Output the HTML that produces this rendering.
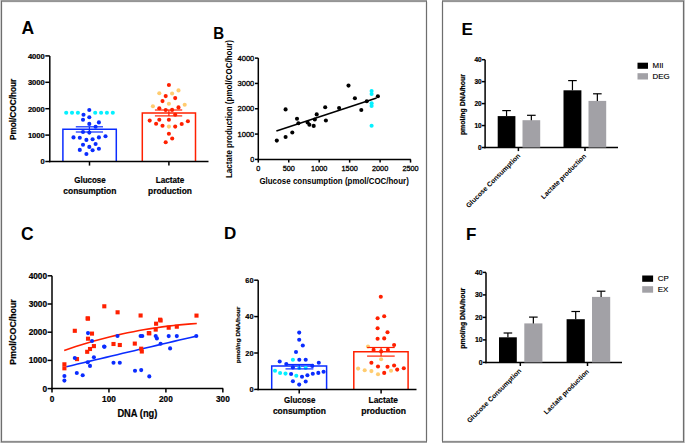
<!DOCTYPE html>
<html><head><meta charset="utf-8"><title>Figure</title>
<style>
html,body{margin:0;padding:0;background:#fff;}
body{width:685px;height:443px;overflow:hidden;}
svg{display:block;}
text{font-family:"Liberation Sans", sans-serif;}
</style></head>
<body>
<svg width="685" height="443" viewBox="0 0 685 443">
<rect x="0" y="0" width="685" height="443" fill="#fff"/>
<rect x="0" y="0" width="427" height="1" fill="#9a9a9a" stroke="none" stroke-width="0"/>
<rect x="0" y="1" width="427" height="1" fill="#949494" stroke="none" stroke-width="0"/>
<rect x="0" y="2" width="427" height="1" fill="#f2f2f2" stroke="none" stroke-width="0"/>
<rect x="0" y="440" width="427" height="1" fill="#eeeeee" stroke="none" stroke-width="0"/>
<rect x="0" y="441" width="427" height="1" fill="#8c8c8c" stroke="none" stroke-width="0"/>
<rect x="0" y="442" width="427" height="1" fill="#a3a3a3" stroke="none" stroke-width="0"/>
<rect x="0" y="2" width="1" height="439" fill="#eeeeee" stroke="none" stroke-width="0"/>
<rect x="2" y="2" width="1" height="439" fill="#eeeeee" stroke="none" stroke-width="0"/>
<rect x="425" y="2" width="1" height="439" fill="#eeeeee" stroke="none" stroke-width="0"/>
<rect x="427" y="2" width="1" height="439" fill="#eeeeee" stroke="none" stroke-width="0"/>
<rect x="0" y="0" width="1" height="443" fill="#d0d0d0" stroke="none" stroke-width="0"/>
<rect x="1" y="1" width="1" height="441" fill="#6e6e6e" stroke="none" stroke-width="0"/>
<rect x="426" y="1" width="1" height="441" fill="#6e6e6e" stroke="none" stroke-width="0"/>
<rect x="442" y="0" width="243" height="1" fill="#9a9a9a" stroke="none" stroke-width="0"/>
<rect x="442" y="1" width="243" height="1" fill="#949494" stroke="none" stroke-width="0"/>
<rect x="442" y="2" width="243" height="1" fill="#f2f2f2" stroke="none" stroke-width="0"/>
<rect x="442" y="440" width="243" height="1" fill="#eeeeee" stroke="none" stroke-width="0"/>
<rect x="442" y="441" width="243" height="1" fill="#8c8c8c" stroke="none" stroke-width="0"/>
<rect x="442" y="442" width="243" height="1" fill="#a3a3a3" stroke="none" stroke-width="0"/>
<rect x="441" y="2" width="1" height="439" fill="#eeeeee" stroke="none" stroke-width="0"/>
<rect x="443" y="2" width="1" height="439" fill="#eeeeee" stroke="none" stroke-width="0"/>
<rect x="682" y="2" width="1" height="439" fill="#eeeeee" stroke="none" stroke-width="0"/>
<rect x="684" y="2" width="1" height="439" fill="#eeeeee" stroke="none" stroke-width="0"/>
<rect x="684" y="0" width="1" height="443" fill="#c4c4c4" stroke="none" stroke-width="0"/>
<rect x="442" y="1" width="1" height="441" fill="#6e6e6e" stroke="none" stroke-width="0"/>
<rect x="683" y="1" width="1" height="441" fill="#6e6e6e" stroke="none" stroke-width="0"/>
<text x="21.4" y="33.8" font-size="17.5" font-weight="bold" text-anchor="start" fill="#000" >A</text>
<line x1="49.8" y1="55.9" x2="49.8" y2="162.25" stroke="#000" stroke-width="1.5" />
<line x1="45.3" y1="161.5" x2="49.8" y2="161.5" stroke="#000" stroke-width="1.5" />
<text x="44.8" y="164.3" font-size="7.6" font-weight="bold" text-anchor="end" fill="#000"  stroke="#000" stroke-width="0.2">0</text>
<line x1="45.3" y1="135.1" x2="49.8" y2="135.1" stroke="#000" stroke-width="1.5" />
<text x="44.8" y="137.9" font-size="7.6" font-weight="bold" text-anchor="end" fill="#000"  stroke="#000" stroke-width="0.2">1000</text>
<line x1="45.3" y1="108.7" x2="49.8" y2="108.7" stroke="#000" stroke-width="1.5" />
<text x="44.8" y="111.5" font-size="7.6" font-weight="bold" text-anchor="end" fill="#000"  stroke="#000" stroke-width="0.2">2000</text>
<line x1="45.3" y1="82.3" x2="49.8" y2="82.3" stroke="#000" stroke-width="1.5" />
<text x="44.8" y="85.1" font-size="7.6" font-weight="bold" text-anchor="end" fill="#000"  stroke="#000" stroke-width="0.2">3000</text>
<line x1="45.3" y1="55.9" x2="49.8" y2="55.9" stroke="#000" stroke-width="1.5" />
<text x="44.8" y="58.7" font-size="7.6" font-weight="bold" text-anchor="end" fill="#000"  stroke="#000" stroke-width="0.2">4000</text>
<text x="15.9" y="109.4" font-size="8.3" font-weight="bold" text-anchor="middle" fill="#000" textLength="61.4" lengthAdjust="spacingAndGlyphs" transform="rotate(-90 15.9 109.4)"  stroke="#000" stroke-width="0.2">Pmol/COC/hour</text>
<text x="90" y="183" font-size="9.2" font-weight="bold" text-anchor="middle" fill="#000" textLength="31.5" lengthAdjust="spacingAndGlyphs"  stroke="#000" stroke-width="0.2">Glucose</text>
<text x="89.8" y="194" font-size="9.2" font-weight="bold" text-anchor="middle" fill="#000" textLength="53" lengthAdjust="spacingAndGlyphs"  stroke="#000" stroke-width="0.2">consumption</text>
<text x="170" y="183" font-size="9.2" font-weight="bold" text-anchor="middle" fill="#000" textLength="28.5" lengthAdjust="spacingAndGlyphs"  stroke="#000" stroke-width="0.2">Lactate</text>
<text x="170" y="194" font-size="9.2" font-weight="bold" text-anchor="middle" fill="#000" textLength="43.9" lengthAdjust="spacingAndGlyphs"  stroke="#000" stroke-width="0.2">production</text>
<path d="M62.9 161.5 V129.3 H116.3 V161.5" fill="none" stroke="#0a2cff" stroke-width="1.5"/>
<circle cx="66.2" cy="112.8" r="2.05" fill="#05f0ff"/>
<circle cx="72" cy="112.8" r="2.05" fill="#05f0ff"/>
<circle cx="77.9" cy="112.8" r="2.05" fill="#05f0ff"/>
<circle cx="95.2" cy="112.8" r="2.05" fill="#05f0ff"/>
<circle cx="101.1" cy="112.8" r="2.05" fill="#05f0ff"/>
<circle cx="106.9" cy="112.8" r="2.05" fill="#05f0ff"/>
<circle cx="112.8" cy="112.8" r="2.05" fill="#05f0ff"/>
<circle cx="89.3" cy="110" r="2.05" fill="#0a2cff"/>
<circle cx="83.5" cy="114.7" r="2.05" fill="#0a2cff"/>
<circle cx="89.3" cy="117.2" r="2.05" fill="#0a2cff"/>
<circle cx="83" cy="119.8" r="2.05" fill="#0a2cff"/>
<circle cx="98.9" cy="122.4" r="2.05" fill="#0a2cff"/>
<circle cx="89.3" cy="123.9" r="2.05" fill="#0a2cff"/>
<circle cx="95.6" cy="126.7" r="2.05" fill="#0a2cff"/>
<circle cx="83" cy="132" r="2.05" fill="#0a2cff"/>
<circle cx="89.3" cy="132.6" r="2.05" fill="#0a2cff"/>
<circle cx="73.5" cy="137.4" r="2.05" fill="#0a2cff"/>
<circle cx="79.8" cy="137.8" r="2.05" fill="#0a2cff"/>
<circle cx="86.4" cy="139.9" r="2.05" fill="#0a2cff"/>
<circle cx="92.6" cy="139.3" r="2.05" fill="#0a2cff"/>
<circle cx="98.9" cy="137.4" r="2.05" fill="#0a2cff"/>
<circle cx="105.5" cy="136.2" r="2.05" fill="#0a2cff"/>
<circle cx="83" cy="144.7" r="2.05" fill="#0a2cff"/>
<circle cx="95.6" cy="144" r="2.05" fill="#0a2cff"/>
<circle cx="89.3" cy="146.9" r="2.05" fill="#0a2cff"/>
<circle cx="79.8" cy="149.9" r="2.05" fill="#0a2cff"/>
<circle cx="92.6" cy="150.2" r="2.05" fill="#0a2cff"/>
<circle cx="98.9" cy="148.8" r="2.05" fill="#0a2cff"/>
<circle cx="86.4" cy="154" r="2.05" fill="#0a2cff"/>
<line x1="89.4" y1="126.8" x2="89.4" y2="132" stroke="#0a2cff" stroke-width="1.2" />
<line x1="75.8" y1="126.8" x2="103" y2="126.8" stroke="#0a2cff" stroke-width="1.2" />
<line x1="75.8" y1="132" x2="103" y2="132" stroke="#0a2cff" stroke-width="1.2" />
<path d="M142.3 161.5 V113 H195.5 V161.5" fill="none" stroke="#ff2000" stroke-width="1.5"/>
<circle cx="159.3" cy="93.3" r="2.05" fill="#ffcc70"/>
<circle cx="172.1" cy="93.5" r="2.05" fill="#ffcc70"/>
<circle cx="178.5" cy="90.4" r="2.05" fill="#ffcc70"/>
<circle cx="168.9" cy="103.7" r="2.05" fill="#ffcc70"/>
<circle cx="152.9" cy="106.2" r="2.05" fill="#ffcc70"/>
<circle cx="184.7" cy="104.8" r="2.05" fill="#ffcc70"/>
<circle cx="168.9" cy="126.6" r="2.05" fill="#ffcc70"/>
<circle cx="168.9" cy="85" r="2.05" fill="#ff2000"/>
<circle cx="165.7" cy="96.1" r="2.05" fill="#ff2000"/>
<circle cx="175.2" cy="98.1" r="2.05" fill="#ff2000"/>
<circle cx="162.5" cy="101.1" r="2.05" fill="#ff2000"/>
<circle cx="159.3" cy="108.2" r="2.05" fill="#ff2000"/>
<circle cx="165.7" cy="110" r="2.05" fill="#ff2000"/>
<circle cx="172.1" cy="109.9" r="2.05" fill="#ff2000"/>
<circle cx="178.5" cy="107.4" r="2.05" fill="#ff2000"/>
<circle cx="175.2" cy="114.8" r="2.05" fill="#ff2000"/>
<circle cx="149.7" cy="120.6" r="2.05" fill="#ff2000"/>
<circle cx="159.3" cy="119.7" r="2.05" fill="#ff2000"/>
<circle cx="168.9" cy="119.7" r="2.05" fill="#ff2000"/>
<circle cx="156.1" cy="123.8" r="2.05" fill="#ff2000"/>
<circle cx="162.5" cy="125.7" r="2.05" fill="#ff2000"/>
<circle cx="175.2" cy="126.6" r="2.05" fill="#ff2000"/>
<circle cx="181.7" cy="124" r="2.05" fill="#ff2000"/>
<circle cx="187.9" cy="121.2" r="2.05" fill="#ff2000"/>
<circle cx="168.9" cy="133.8" r="2.05" fill="#ff2000"/>
<circle cx="172.2" cy="138.5" r="2.05" fill="#ff2000"/>
<circle cx="165.7" cy="142.3" r="2.05" fill="#ff2000"/>
<line x1="168.9" y1="110" x2="168.9" y2="115.9" stroke="#ff2000" stroke-width="1.2" />
<line x1="154.9" y1="110" x2="182.2" y2="110" stroke="#ff2000" stroke-width="1.2" />
<line x1="154.9" y1="115.9" x2="182.2" y2="115.9" stroke="#ff2000" stroke-width="1.2" />
<line x1="49.05" y1="161.5" x2="208.5" y2="161.5" stroke="#000" stroke-width="1.5" />
<line x1="89.5" y1="161.5" x2="89.5" y2="165.6" stroke="#000" stroke-width="1.5" />
<line x1="168.9" y1="161.5" x2="168.9" y2="165.6" stroke="#000" stroke-width="1.5" />
<text x="213.3" y="38.7" font-size="17.0" font-weight="bold" text-anchor="start" fill="#000" textLength="10.9" lengthAdjust="spacingAndGlyphs" >B</text>
<line x1="258.3" y1="58.1" x2="258.3" y2="160.15" stroke="#000" stroke-width="1.5" />
<line x1="255" y1="159.4" x2="258.3" y2="159.4" stroke="#000" stroke-width="1.5" />
<text x="254.3" y="162" font-size="7.3" font-weight="normal" text-anchor="end" fill="#000" stroke="#000" stroke-width="0.3">0</text>
<line x1="255" y1="134.08" x2="258.3" y2="134.08" stroke="#000" stroke-width="1.5" />
<text x="254.3" y="136.68" font-size="7.3" font-weight="normal" text-anchor="end" fill="#000" textLength="16.8" lengthAdjust="spacingAndGlyphs" stroke="#000" stroke-width="0.3">1000</text>
<line x1="255" y1="108.76" x2="258.3" y2="108.76" stroke="#000" stroke-width="1.5" />
<text x="254.3" y="111.36" font-size="7.3" font-weight="normal" text-anchor="end" fill="#000" textLength="16.8" lengthAdjust="spacingAndGlyphs" stroke="#000" stroke-width="0.3">2000</text>
<line x1="255" y1="83.44" x2="258.3" y2="83.44" stroke="#000" stroke-width="1.5" />
<text x="254.3" y="86.04" font-size="7.3" font-weight="normal" text-anchor="end" fill="#000" textLength="16.8" lengthAdjust="spacingAndGlyphs" stroke="#000" stroke-width="0.3">3000</text>
<line x1="255" y1="58.12" x2="258.3" y2="58.12" stroke="#000" stroke-width="1.5" />
<text x="254.3" y="60.72" font-size="7.3" font-weight="normal" text-anchor="end" fill="#000" textLength="16.8" lengthAdjust="spacingAndGlyphs" stroke="#000" stroke-width="0.3">4000</text>
<line x1="257.55" y1="159.4" x2="410.8" y2="159.4" stroke="#000" stroke-width="1.5" />
<line x1="258.3" y1="159.4" x2="258.3" y2="162.6" stroke="#000" stroke-width="1.5" />
<text x="258.3" y="170.9" font-size="7.3" font-weight="normal" text-anchor="middle" fill="#000" stroke="#000" stroke-width="0.3">0</text>
<line x1="288.75" y1="159.4" x2="288.75" y2="162.6" stroke="#000" stroke-width="1.5" />
<text x="288.75" y="170.9" font-size="7.3" font-weight="normal" text-anchor="middle" fill="#000" stroke="#000" stroke-width="0.3">500</text>
<line x1="319.2" y1="159.4" x2="319.2" y2="162.6" stroke="#000" stroke-width="1.5" />
<text x="319.2" y="170.9" font-size="7.3" font-weight="normal" text-anchor="middle" fill="#000" stroke="#000" stroke-width="0.3">1000</text>
<line x1="349.65" y1="159.4" x2="349.65" y2="162.6" stroke="#000" stroke-width="1.5" />
<text x="349.65" y="170.9" font-size="7.3" font-weight="normal" text-anchor="middle" fill="#000" stroke="#000" stroke-width="0.3">1500</text>
<line x1="380.1" y1="159.4" x2="380.1" y2="162.6" stroke="#000" stroke-width="1.5" />
<text x="380.1" y="170.9" font-size="7.3" font-weight="normal" text-anchor="middle" fill="#000" stroke="#000" stroke-width="0.3">2000</text>
<line x1="410.55" y1="159.4" x2="410.55" y2="162.6" stroke="#000" stroke-width="1.5" />
<text x="410.55" y="170.9" font-size="7.3" font-weight="normal" text-anchor="middle" fill="#000" stroke="#000" stroke-width="0.3">2500</text>
<text x="334.1" y="183.6" font-size="8.8" font-weight="bold" text-anchor="middle" fill="#000" textLength="149.4" lengthAdjust="spacingAndGlyphs" stroke="none">Glucose consumption (pmol/COC/hour)</text>
<text x="232" y="109" font-size="8.8" font-weight="bold" text-anchor="middle" fill="#000" textLength="138" lengthAdjust="spacingAndGlyphs" transform="rotate(-90 232 109)" stroke="none">Lactate production (pmol/COC/hour)</text>
<circle cx="371.6" cy="91" r="2.05" fill="#05f0ff"/>
<circle cx="371.6" cy="94" r="2.05" fill="#05f0ff"/>
<circle cx="371.6" cy="103.2" r="2.05" fill="#05f0ff"/>
<circle cx="371.6" cy="105.9" r="2.05" fill="#05f0ff"/>
<circle cx="371.6" cy="125.8" r="2.05" fill="#05f0ff"/>
<circle cx="276.8" cy="140.6" r="2.05" fill="#000"/>
<circle cx="285.6" cy="137" r="2.05" fill="#000"/>
<circle cx="292.3" cy="132.5" r="2.05" fill="#000"/>
<circle cx="285.6" cy="109.4" r="2.05" fill="#000"/>
<circle cx="297" cy="118.7" r="2.05" fill="#000"/>
<circle cx="298.4" cy="123.2" r="2.05" fill="#000"/>
<circle cx="307.6" cy="122.5" r="2.05" fill="#000"/>
<circle cx="309.4" cy="124.8" r="2.05" fill="#000"/>
<circle cx="313.7" cy="125.9" r="2.05" fill="#000"/>
<circle cx="314.8" cy="119.5" r="2.05" fill="#000"/>
<circle cx="316.7" cy="114.4" r="2.05" fill="#000"/>
<circle cx="325.2" cy="107.3" r="2.05" fill="#000"/>
<circle cx="325.9" cy="120.5" r="2.05" fill="#000"/>
<circle cx="339.1" cy="108" r="2.05" fill="#000"/>
<circle cx="348.5" cy="85.6" r="2.05" fill="#000"/>
<circle cx="354.9" cy="98.2" r="2.05" fill="#000"/>
<circle cx="361.3" cy="110" r="2.05" fill="#000"/>
<circle cx="366.8" cy="101.2" r="2.05" fill="#000"/>
<circle cx="377.9" cy="96.2" r="2.05" fill="#000"/>
<line x1="276.4" y1="131" x2="376.6" y2="98" stroke="#000" stroke-width="1.6" />
<text x="21" y="240" font-size="17.5" font-weight="bold" text-anchor="start" fill="#000" >C</text>
<line x1="52" y1="275.8" x2="52" y2="389.35" stroke="#000" stroke-width="1.5" />
<line x1="47.6" y1="388.6" x2="52" y2="388.6" stroke="#000" stroke-width="1.5" />
<text x="47.1" y="391.5" font-size="8.3" font-weight="bold" text-anchor="end" fill="#000"  stroke="#000" stroke-width="0.2">0</text>
<line x1="47.6" y1="360.4" x2="52" y2="360.4" stroke="#000" stroke-width="1.5" />
<text x="47.1" y="363.3" font-size="8.3" font-weight="bold" text-anchor="end" fill="#000"  stroke="#000" stroke-width="0.2">1000</text>
<line x1="47.6" y1="332.2" x2="52" y2="332.2" stroke="#000" stroke-width="1.5" />
<text x="47.1" y="335.1" font-size="8.3" font-weight="bold" text-anchor="end" fill="#000"  stroke="#000" stroke-width="0.2">2000</text>
<line x1="47.6" y1="304" x2="52" y2="304" stroke="#000" stroke-width="1.5" />
<text x="47.1" y="306.9" font-size="8.3" font-weight="bold" text-anchor="end" fill="#000"  stroke="#000" stroke-width="0.2">3000</text>
<line x1="47.6" y1="275.8" x2="52" y2="275.8" stroke="#000" stroke-width="1.5" />
<text x="47.1" y="278.7" font-size="8.3" font-weight="bold" text-anchor="end" fill="#000"  stroke="#000" stroke-width="0.2">4000</text>
<line x1="51.25" y1="388.6" x2="223.2" y2="388.6" stroke="#000" stroke-width="1.5" />
<line x1="52" y1="388.6" x2="52" y2="392.6" stroke="#000" stroke-width="1.5" />
<text x="52" y="401.7" font-size="8.3" font-weight="bold" text-anchor="middle" fill="#000"  stroke="#000" stroke-width="0.2">0</text>
<line x1="108.95" y1="388.6" x2="108.95" y2="392.6" stroke="#000" stroke-width="1.5" />
<text x="108.95" y="401.7" font-size="8.3" font-weight="bold" text-anchor="middle" fill="#000"  stroke="#000" stroke-width="0.2">100</text>
<line x1="165.9" y1="388.6" x2="165.9" y2="392.6" stroke="#000" stroke-width="1.5" />
<text x="165.9" y="401.7" font-size="8.3" font-weight="bold" text-anchor="middle" fill="#000"  stroke="#000" stroke-width="0.2">200</text>
<line x1="222.85" y1="388.6" x2="222.85" y2="392.6" stroke="#000" stroke-width="1.5" />
<text x="222.85" y="401.7" font-size="8.3" font-weight="bold" text-anchor="middle" fill="#000"  stroke="#000" stroke-width="0.2">300</text>
<text x="137.4" y="417.4" font-size="10.0" font-weight="bold" text-anchor="middle" fill="#000" textLength="40" lengthAdjust="spacingAndGlyphs"  stroke="#000" stroke-width="0.2">DNA (ng)</text>
<text x="16.2" y="332" font-size="8.8" font-weight="bold" text-anchor="middle" fill="#000" textLength="65.4" lengthAdjust="spacingAndGlyphs" transform="rotate(-90 16.2 332)"  stroke="#000" stroke-width="0.2">Pmol/COC/hour</text>
<polyline points="64.20,350.41 69.97,348.45 75.73,346.57 81.50,344.76 87.26,343.02 93.03,341.35 98.79,339.75 104.56,338.23 110.32,336.77 116.09,335.39 121.85,334.08 127.62,332.84 133.38,331.67 139.15,330.58 144.91,329.55 150.68,328.60 156.44,327.71 162.21,326.90 167.97,326.16 173.74,325.50 179.50,324.90 185.27,324.37 191.03,323.92 196.80,323.54" fill="none" stroke="#ff2000" stroke-width="1.6" stroke-linejoin="round"/>
<polyline points="66.30,366.77 71.96,365.42 77.61,364.07 83.27,362.73 88.93,361.38 94.58,360.04 100.24,358.69 105.90,357.35 111.55,356.01 117.21,354.68 122.87,353.34 128.52,352.00 134.18,350.67 139.83,349.34 145.49,348.01 151.15,346.68 156.80,345.35 162.46,344.03 168.12,342.70 173.77,341.38 179.43,340.06 185.09,338.74 190.74,337.42 196.40,336.11" fill="none" stroke="#0a2cff" stroke-width="1.6" stroke-linejoin="round"/>
<rect x="62.35" y="362.25" width="4.1" height="4.1" fill="#ff2000"/>
<rect x="62.35" y="366.25" width="4.1" height="4.1" fill="#ff2000"/>
<rect x="74.95" y="357.05" width="4.1" height="4.1" fill="#ff2000"/>
<rect x="85.15" y="349.75" width="4.1" height="4.1" fill="#ff2000"/>
<rect x="87.95" y="346.95" width="4.1" height="4.1" fill="#ff2000"/>
<rect x="91.85" y="344.05" width="4.1" height="4.1" fill="#ff2000"/>
<rect x="85.95" y="316.55" width="4.1" height="4.1" fill="#ff2000"/>
<rect x="72.75" y="328.75" width="4.1" height="4.1" fill="#ff2000"/>
<rect x="89.95" y="331.55" width="4.1" height="4.1" fill="#ff2000"/>
<rect x="85.95" y="336.65" width="4.1" height="4.1" fill="#ff2000"/>
<rect x="102.25" y="304.25" width="4.1" height="4.1" fill="#ff2000"/>
<rect x="115.55" y="310.25" width="4.1" height="4.1" fill="#ff2000"/>
<rect x="138.55" y="313.45" width="4.1" height="4.1" fill="#ff2000"/>
<rect x="111.45" y="341.95" width="4.1" height="4.1" fill="#ff2000"/>
<rect x="117.75" y="342.95" width="4.1" height="4.1" fill="#ff2000"/>
<rect x="132.75" y="341.55" width="4.1" height="4.1" fill="#ff2000"/>
<rect x="139.15" y="346.65" width="4.1" height="4.1" fill="#ff2000"/>
<rect x="139.75" y="349.45" width="4.1" height="4.1" fill="#ff2000"/>
<rect x="146.75" y="331.05" width="4.1" height="4.1" fill="#ff2000"/>
<rect x="147.25" y="331.25" width="4.1" height="4.1" fill="#ff2000"/>
<rect x="154.05" y="321.65" width="4.1" height="4.1" fill="#ff2000"/>
<rect x="158.55" y="318.45" width="4.1" height="4.1" fill="#ff2000"/>
<rect x="153.65" y="327.55" width="4.1" height="4.1" fill="#ff2000"/>
<rect x="166.65" y="325.65" width="4.1" height="4.1" fill="#ff2000"/>
<rect x="174.75" y="324.65" width="4.1" height="4.1" fill="#ff2000"/>
<rect x="194.45" y="313.55" width="4.1" height="4.1" fill="#ff2000"/>
<rect x="85.55" y="316.35" width="4.1" height="4.1" fill="#ff2000"/>
<rect x="158.05" y="317.65" width="4.1" height="4.1" fill="#ff2000"/>
<circle cx="74.8" cy="358" r="2.05" fill="#0a2cff"/>
<circle cx="64.4" cy="376" r="2.05" fill="#0a2cff"/>
<circle cx="64.4" cy="380.6" r="2.05" fill="#0a2cff"/>
<circle cx="76.8" cy="373" r="2.05" fill="#0a2cff"/>
<circle cx="82.7" cy="375.2" r="2.05" fill="#0a2cff"/>
<circle cx="87.7" cy="362.2" r="2.05" fill="#0a2cff"/>
<circle cx="90" cy="365.9" r="2.05" fill="#0a2cff"/>
<circle cx="93.9" cy="357.2" r="2.05" fill="#0a2cff"/>
<circle cx="104.1" cy="346.6" r="2.05" fill="#0a2cff"/>
<circle cx="88" cy="333.1" r="2.05" fill="#0a2cff"/>
<circle cx="92" cy="341" r="2.05" fill="#0a2cff"/>
<circle cx="117.5" cy="336" r="2.05" fill="#0a2cff"/>
<circle cx="140.6" cy="336" r="2.05" fill="#0a2cff"/>
<circle cx="142.3" cy="336" r="2.05" fill="#0a2cff"/>
<circle cx="104.5" cy="346.7" r="2.05" fill="#0a2cff"/>
<circle cx="113.5" cy="362.8" r="2.05" fill="#0a2cff"/>
<circle cx="119.8" cy="362.8" r="2.05" fill="#0a2cff"/>
<circle cx="135" cy="370.7" r="2.05" fill="#0a2cff"/>
<circle cx="141.2" cy="370.1" r="2.05" fill="#0a2cff"/>
<circle cx="155.7" cy="336.1" r="2.05" fill="#0a2cff"/>
<circle cx="156.9" cy="338.4" r="2.05" fill="#0a2cff"/>
<circle cx="168.7" cy="336.1" r="2.05" fill="#0a2cff"/>
<circle cx="176.8" cy="336.1" r="2.05" fill="#0a2cff"/>
<circle cx="160.6" cy="343.8" r="2.05" fill="#0a2cff"/>
<circle cx="170.1" cy="348.4" r="2.05" fill="#0a2cff"/>
<circle cx="149.3" cy="376.4" r="2.05" fill="#0a2cff"/>
<circle cx="196.3" cy="336" r="2.05" fill="#0a2cff"/>
<text x="223.9" y="238.7" font-size="17.0" font-weight="bold" text-anchor="start" fill="#000" >D</text>
<line x1="258.2" y1="280.2" x2="258.2" y2="390.15" stroke="#000" stroke-width="1.5" />
<line x1="254.2" y1="389.4" x2="258.2" y2="389.4" stroke="#000" stroke-width="1.5" />
<text x="253.6" y="392" font-size="7.4" font-weight="bold" text-anchor="end" fill="#000"  stroke="#000" stroke-width="0.2">0</text>
<line x1="254.2" y1="353" x2="258.2" y2="353" stroke="#000" stroke-width="1.5" />
<text x="253.6" y="355.6" font-size="7.4" font-weight="bold" text-anchor="end" fill="#000"  stroke="#000" stroke-width="0.2">20</text>
<line x1="254.2" y1="316.6" x2="258.2" y2="316.6" stroke="#000" stroke-width="1.5" />
<text x="253.6" y="319.2" font-size="7.4" font-weight="bold" text-anchor="end" fill="#000"  stroke="#000" stroke-width="0.2">40</text>
<line x1="254.2" y1="280.2" x2="258.2" y2="280.2" stroke="#000" stroke-width="1.5" />
<text x="253.6" y="282.8" font-size="7.4" font-weight="bold" text-anchor="end" fill="#000"  stroke="#000" stroke-width="0.2">60</text>
<text x="239.6" y="335" font-size="6.2" font-weight="bold" text-anchor="middle" fill="#000" textLength="56.4" lengthAdjust="spacingAndGlyphs" transform="rotate(-90 239.6 335)"  stroke="#000" stroke-width="0.2">pmol/ng DNA/hour</text>
<text x="299.7" y="403.2" font-size="9.2" font-weight="bold" text-anchor="middle" fill="#000" textLength="31.4" lengthAdjust="spacingAndGlyphs"  stroke="#000" stroke-width="0.2">Glucose</text>
<text x="299.4" y="413.5" font-size="9.2" font-weight="bold" text-anchor="middle" fill="#000" textLength="53" lengthAdjust="spacingAndGlyphs"  stroke="#000" stroke-width="0.2">consumption</text>
<text x="383.2" y="403.2" font-size="9.2" font-weight="bold" text-anchor="middle" fill="#000" textLength="29.3" lengthAdjust="spacingAndGlyphs"  stroke="#000" stroke-width="0.2">Lactate</text>
<text x="383.6" y="413.5" font-size="9.2" font-weight="bold" text-anchor="middle" fill="#000" textLength="44.8" lengthAdjust="spacingAndGlyphs"  stroke="#000" stroke-width="0.2">production</text>
<path d="M271.7 389.4 V366 H326.6 V389.4" fill="none" stroke="#0a2cff" stroke-width="1.5"/>
<circle cx="292.9" cy="359.8" r="2.05" fill="#05f0ff"/>
<circle cx="275" cy="370.8" r="2.05" fill="#05f0ff"/>
<circle cx="280.1" cy="373" r="2.05" fill="#05f0ff"/>
<circle cx="285.5" cy="373.6" r="2.05" fill="#05f0ff"/>
<circle cx="299.3" cy="368" r="2.05" fill="#05f0ff"/>
<circle cx="305.7" cy="368" r="2.05" fill="#05f0ff"/>
<circle cx="296.3" cy="375.8" r="2.05" fill="#05f0ff"/>
<circle cx="299.2" cy="332.6" r="2.05" fill="#0a2cff"/>
<circle cx="299.2" cy="339.8" r="2.05" fill="#0a2cff"/>
<circle cx="302.8" cy="345.5" r="2.05" fill="#0a2cff"/>
<circle cx="296" cy="352" r="2.05" fill="#0a2cff"/>
<circle cx="279.7" cy="361.5" r="2.05" fill="#0a2cff"/>
<circle cx="286.3" cy="364" r="2.05" fill="#0a2cff"/>
<circle cx="299.3" cy="359.8" r="2.05" fill="#0a2cff"/>
<circle cx="305.7" cy="359.7" r="2.05" fill="#0a2cff"/>
<circle cx="318.8" cy="362.7" r="2.05" fill="#0a2cff"/>
<circle cx="292.9" cy="367.4" r="2.05" fill="#0a2cff"/>
<circle cx="312.3" cy="365.9" r="2.05" fill="#0a2cff"/>
<circle cx="291.1" cy="374" r="2.05" fill="#0a2cff"/>
<circle cx="302" cy="376.8" r="2.05" fill="#0a2cff"/>
<circle cx="307.4" cy="375.3" r="2.05" fill="#0a2cff"/>
<circle cx="312.8" cy="373.8" r="2.05" fill="#0a2cff"/>
<circle cx="318.3" cy="372.9" r="2.05" fill="#0a2cff"/>
<circle cx="323.6" cy="371.7" r="2.05" fill="#0a2cff"/>
<circle cx="292.9" cy="381.3" r="2.05" fill="#0a2cff"/>
<circle cx="305.7" cy="381.5" r="2.05" fill="#0a2cff"/>
<circle cx="299.2" cy="384.6" r="2.05" fill="#0a2cff"/>
<line x1="299.2" y1="364.5" x2="299.2" y2="368.9" stroke="#0a2cff" stroke-width="1.2" />
<line x1="285.5" y1="364.5" x2="313.4" y2="364.5" stroke="#0a2cff" stroke-width="1.2" />
<line x1="285.5" y1="368.9" x2="313.4" y2="368.9" stroke="#0a2cff" stroke-width="1.2" />
<path d="M353.8 389.4 V351.8 H408.1 V389.4" fill="none" stroke="#ff2000" stroke-width="1.5"/>
<circle cx="368" cy="346.5" r="2.05" fill="#ffcc70"/>
<circle cx="381.1" cy="359.3" r="2.05" fill="#ffcc70"/>
<circle cx="358.1" cy="368.6" r="2.05" fill="#ffcc70"/>
<circle cx="364.7" cy="370.2" r="2.05" fill="#ffcc70"/>
<circle cx="371.4" cy="371.1" r="2.05" fill="#ffcc70"/>
<circle cx="378" cy="374.2" r="2.05" fill="#ffcc70"/>
<circle cx="391" cy="370.8" r="2.05" fill="#ffcc70"/>
<circle cx="380.8" cy="296.8" r="2.05" fill="#ff2000"/>
<circle cx="377.6" cy="318.3" r="2.05" fill="#ff2000"/>
<circle cx="384.2" cy="316.3" r="2.05" fill="#ff2000"/>
<circle cx="377.6" cy="328.2" r="2.05" fill="#ff2000"/>
<circle cx="387.5" cy="332.2" r="2.05" fill="#ff2000"/>
<circle cx="377.6" cy="338.8" r="2.05" fill="#ff2000"/>
<circle cx="384.2" cy="338.4" r="2.05" fill="#ff2000"/>
<circle cx="394.1" cy="345" r="2.05" fill="#ff2000"/>
<circle cx="373.6" cy="349.9" r="2.05" fill="#ff2000"/>
<circle cx="381.1" cy="351.4" r="2.05" fill="#ff2000"/>
<circle cx="387.9" cy="349.9" r="2.05" fill="#ff2000"/>
<circle cx="371.4" cy="362.7" r="2.05" fill="#ff2000"/>
<circle cx="378" cy="366.5" r="2.05" fill="#ff2000"/>
<circle cx="387.5" cy="366.7" r="2.05" fill="#ff2000"/>
<circle cx="394.1" cy="365.5" r="2.05" fill="#ff2000"/>
<circle cx="397.2" cy="369.6" r="2.05" fill="#ff2000"/>
<circle cx="403.8" cy="368.3" r="2.05" fill="#ff2000"/>
<circle cx="384.2" cy="372.9" r="2.05" fill="#ff2000"/>
<line x1="381.1" y1="347.5" x2="381.1" y2="356.1" stroke="#ff2000" stroke-width="1.2" />
<line x1="367.1" y1="347.5" x2="394.7" y2="347.5" stroke="#ff2000" stroke-width="1.2" />
<line x1="367.1" y1="356.1" x2="394.7" y2="356.1" stroke="#ff2000" stroke-width="1.2" />
<line x1="257.45" y1="389.4" x2="416.5" y2="389.4" stroke="#000" stroke-width="1.5" />
<line x1="299.2" y1="389.4" x2="299.2" y2="393.4" stroke="#000" stroke-width="1.5" />
<line x1="381.1" y1="389.4" x2="381.1" y2="393.4" stroke="#000" stroke-width="1.5" />
<text x="461.4" y="34.6" font-size="17.0" font-weight="bold" text-anchor="start" fill="#000" >E</text>
<line x1="485.1" y1="59.7" x2="485.1" y2="148.25" stroke="#000" stroke-width="1.5" />
<line x1="481.9" y1="147.5" x2="485.1" y2="147.5" stroke="#000" stroke-width="1.5" />
<text x="481.7" y="149.84" font-size="6.5" font-weight="bold" text-anchor="end" fill="#000"  stroke="#000" stroke-width="0.2">0</text>
<line x1="481.9" y1="125.55" x2="485.1" y2="125.55" stroke="#000" stroke-width="1.5" />
<text x="481.7" y="127.89" font-size="6.5" font-weight="bold" text-anchor="end" fill="#000"  stroke="#000" stroke-width="0.2">10</text>
<line x1="481.9" y1="103.6" x2="485.1" y2="103.6" stroke="#000" stroke-width="1.5" />
<text x="481.7" y="105.94" font-size="6.5" font-weight="bold" text-anchor="end" fill="#000"  stroke="#000" stroke-width="0.2">20</text>
<line x1="481.9" y1="81.65" x2="485.1" y2="81.65" stroke="#000" stroke-width="1.5" />
<text x="481.7" y="83.99" font-size="6.5" font-weight="bold" text-anchor="end" fill="#000"  stroke="#000" stroke-width="0.2">30</text>
<line x1="481.9" y1="59.7" x2="485.1" y2="59.7" stroke="#000" stroke-width="1.5" />
<text x="481.7" y="62.04" font-size="6.5" font-weight="bold" text-anchor="end" fill="#000"  stroke="#000" stroke-width="0.2">40</text>
<line x1="484.35" y1="147.5" x2="618" y2="147.5" stroke="#000" stroke-width="1.5" />
<line x1="518.4" y1="147.5" x2="518.4" y2="151.1" stroke="#000" stroke-width="1.5" />
<line x1="585" y1="147.5" x2="585" y2="151.1" stroke="#000" stroke-width="1.5" />
<rect x="497.7" y="116.1" width="17.7" height="31.4" fill="#000" stroke="none" stroke-width="0"/>
<line x1="506.55" y1="110.6" x2="506.55" y2="116.1" stroke="#000" stroke-width="1.2" />
<line x1="502.25" y1="110.6" x2="510.85" y2="110.6" stroke="#000" stroke-width="1.2" />
<rect x="522.5" y="120.2" width="17.7" height="27.3" fill="#a2a1a6" stroke="none" stroke-width="0"/>
<line x1="531.35" y1="115.3" x2="531.35" y2="120.2" stroke="#000" stroke-width="1.2" />
<line x1="527.05" y1="115.3" x2="535.65" y2="115.3" stroke="#000" stroke-width="1.2" />
<rect x="563.5" y="90.3" width="17.9" height="57.2" fill="#000" stroke="none" stroke-width="0"/>
<line x1="572.45" y1="80.6" x2="572.45" y2="90.3" stroke="#000" stroke-width="1.2" />
<line x1="568.15" y1="80.6" x2="576.75" y2="80.6" stroke="#000" stroke-width="1.2" />
<rect x="588.5" y="100.9" width="17.7" height="46.6" fill="#a2a1a6" stroke="none" stroke-width="0"/>
<line x1="597.35" y1="93.8" x2="597.35" y2="100.9" stroke="#000" stroke-width="1.2" />
<line x1="593.05" y1="93.8" x2="601.65" y2="93.8" stroke="#000" stroke-width="1.2" />
<rect x="637.5" y="62.7" width="10.5" height="6.1" fill="#000" stroke="none" stroke-width="0"/>
<rect x="637.5" y="73.2" width="10.5" height="6.3" fill="#a2a1a6" stroke="none" stroke-width="0"/>
<text x="652.6" y="68.2" font-size="7.9" font-weight="normal" text-anchor="start" fill="#000" stroke="#000" stroke-width="0.15">MII</text>
<text x="652.6" y="78.9" font-size="7.9" font-weight="normal" text-anchor="start" fill="#000" stroke="#000" stroke-width="0.15">DEG</text>
<text x="465.4" y="104.6" font-size="6.8" font-weight="bold" text-anchor="middle" fill="#000" textLength="61" lengthAdjust="spacingAndGlyphs" transform="rotate(-90 465.4 104.6)"  stroke="#000" stroke-width="0.2">pmol/ng DNA/hour</text>
<text x="520.8" y="156.2" font-size="6.8" font-weight="bold" text-anchor="end" fill="#000" textLength="73.5" lengthAdjust="spacingAndGlyphs" transform="rotate(-45 520.8 156.2)" stroke="none">Glucose Consumption</text>
<text x="586.6" y="156.6" font-size="6.8" font-weight="bold" text-anchor="end" fill="#000" textLength="60.5" lengthAdjust="spacingAndGlyphs" transform="rotate(-45 586.6 156.6)" stroke="none">Lactate production</text>
<text x="466.1" y="239.6" font-size="17.0" font-weight="bold" text-anchor="start" fill="#000" >F</text>
<line x1="486" y1="272.4" x2="486" y2="363.15" stroke="#000" stroke-width="1.5" />
<line x1="482.8" y1="362.4" x2="486" y2="362.4" stroke="#000" stroke-width="1.5" />
<text x="482.6" y="364.88" font-size="6.9" font-weight="bold" text-anchor="end" fill="#000"  stroke="#000" stroke-width="0.2">0</text>
<line x1="482.8" y1="339.9" x2="486" y2="339.9" stroke="#000" stroke-width="1.5" />
<text x="482.6" y="342.38" font-size="6.9" font-weight="bold" text-anchor="end" fill="#000"  stroke="#000" stroke-width="0.2">10</text>
<line x1="482.8" y1="317.4" x2="486" y2="317.4" stroke="#000" stroke-width="1.5" />
<text x="482.6" y="319.88" font-size="6.9" font-weight="bold" text-anchor="end" fill="#000"  stroke="#000" stroke-width="0.2">20</text>
<line x1="482.8" y1="294.9" x2="486" y2="294.9" stroke="#000" stroke-width="1.5" />
<text x="482.6" y="297.38" font-size="6.9" font-weight="bold" text-anchor="end" fill="#000"  stroke="#000" stroke-width="0.2">30</text>
<line x1="482.8" y1="272.4" x2="486" y2="272.4" stroke="#000" stroke-width="1.5" />
<text x="482.6" y="274.88" font-size="6.9" font-weight="bold" text-anchor="end" fill="#000"  stroke="#000" stroke-width="0.2">40</text>
<line x1="485.25" y1="362.4" x2="622" y2="362.4" stroke="#000" stroke-width="1.5" />
<line x1="520.3" y1="362.4" x2="520.3" y2="366" stroke="#000" stroke-width="1.5" />
<line x1="587.5" y1="362.4" x2="587.5" y2="366" stroke="#000" stroke-width="1.5" />
<rect x="499" y="337.3" width="17.8" height="25.1" fill="#000" stroke="none" stroke-width="0"/>
<line x1="507.9" y1="333" x2="507.9" y2="337.3" stroke="#000" stroke-width="1.2" />
<line x1="503.6" y1="333" x2="512.2" y2="333" stroke="#000" stroke-width="1.2" />
<rect x="524.3" y="323.4" width="18.1" height="39" fill="#a2a1a6" stroke="none" stroke-width="0"/>
<line x1="533.35" y1="317.1" x2="533.35" y2="323.4" stroke="#000" stroke-width="1.2" />
<line x1="529.05" y1="317.1" x2="537.65" y2="317.1" stroke="#000" stroke-width="1.2" />
<rect x="566.6" y="319.2" width="18.2" height="43.2" fill="#000" stroke="none" stroke-width="0"/>
<line x1="575.7" y1="311.5" x2="575.7" y2="319.2" stroke="#000" stroke-width="1.2" />
<line x1="571.4" y1="311.5" x2="580" y2="311.5" stroke="#000" stroke-width="1.2" />
<rect x="592" y="296.9" width="18.2" height="65.5" fill="#a2a1a6" stroke="none" stroke-width="0"/>
<line x1="601.1" y1="291.2" x2="601.1" y2="296.9" stroke="#000" stroke-width="1.2" />
<line x1="596.8" y1="291.2" x2="605.4" y2="291.2" stroke="#000" stroke-width="1.2" />
<rect x="642.2" y="275.5" width="10.9" height="6.3" fill="#000" stroke="none" stroke-width="0"/>
<rect x="642.2" y="286.2" width="10.9" height="6.5" fill="#a2a1a6" stroke="none" stroke-width="0"/>
<text x="657.7" y="281.2" font-size="7.9" font-weight="normal" text-anchor="start" fill="#000" stroke="#000" stroke-width="0.15">CP</text>
<text x="657.7" y="292.1" font-size="7.9" font-weight="normal" text-anchor="start" fill="#000" stroke="#000" stroke-width="0.15">EX</text>
<text x="465.4" y="318.2" font-size="6.8" font-weight="bold" text-anchor="middle" fill="#000" textLength="61" lengthAdjust="spacingAndGlyphs" transform="rotate(-90 465.4 318.2)"  stroke="#000" stroke-width="0.2">pmol/ng DNA/hour</text>
<text x="521.8" y="371.2" font-size="6.8" font-weight="bold" text-anchor="end" fill="#000" textLength="73.5" lengthAdjust="spacingAndGlyphs" transform="rotate(-45 521.8 371.2)" stroke="none">Glucose Consumption</text>
<text x="589.4" y="372" font-size="6.8" font-weight="bold" text-anchor="end" fill="#000" textLength="60.5" lengthAdjust="spacingAndGlyphs" transform="rotate(-45 589.4 372)" stroke="none">Lactate production</text>
</svg>
</body></html>
